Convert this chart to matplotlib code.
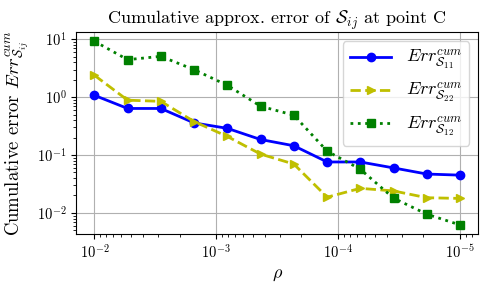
import matplotlib
matplotlib.use('Agg')
import matplotlib.pyplot as plt

plt.rcParams['font.family'] = 'serif'
plt.rcParams['font.serif'] = ['cmr10']
plt.rcParams['mathtext.fontset'] = 'cm'
plt.rcParams['axes.formatter.use_mathtext'] = True
plt.rcParams['axes.unicode_minus'] = False

# Data
rho = [1.0e-2, 5.34e-3, 2.85e-3, 1.52e-3, 8.11e-4, 4.33e-4,
       2.31e-4, 1.23e-4, 6.58e-5, 3.51e-5, 1.87e-5, 1.0e-5]
err_s11 = [1.08, 0.64, 0.64, 0.36, 0.29, 0.186,
           0.145, 0.076, 0.076, 0.060, 0.047, 0.045]
err_s22 = [2.4, 0.89, 0.85, 0.38, 0.21, 0.104,
           0.070, 0.0187, 0.0266, 0.024, 0.0183, 0.0178]
err_s12 = [9.3, 4.47, 5.1, 3.0, 1.61, 0.70,
           0.49, 0.117, 0.057, 0.018, 0.0095, 0.0062]

fig = plt.figure(figsize=(4.88, 2.89), dpi=100)
ax = fig.add_axes([0.156, 0.19, 0.824, 0.699])

ax.plot(rho, err_s11, 'b-o', linewidth=2, markersize=6,
        label=r'$Err^{cum}_{\mathcal{S}_{11}}$')
ax.plot(rho, err_s22, 'y--', marker='>', linewidth=2, markersize=6,
        label=r'$Err^{cum}_{\mathcal{S}_{22}}$')
ax.plot(rho, err_s12, 'g:', marker='s', linewidth=2, markersize=6,
        label=r'$Err^{cum}_{\mathcal{S}_{12}}$')

ax.set_xscale('log')
ax.set_yscale('log')
ax.invert_xaxis()
ax.grid(True, which='major')

ax.set_title(r'Cumulative approx. error of $\mathcal{S}_{ij}$ at point C', fontsize=13)
ax.set_xlabel(r'$\rho$', fontsize=13)
ax.set_ylabel(r'Cumulative error $Err^{cum}_{\mathcal{S}_{ij}}$', fontsize=13.5)
ax.tick_params(labelsize=10.5)
ax.legend(loc='upper right', fontsize=13, handlelength=2.3)

fig.savefig('out.png', dpi=100)
